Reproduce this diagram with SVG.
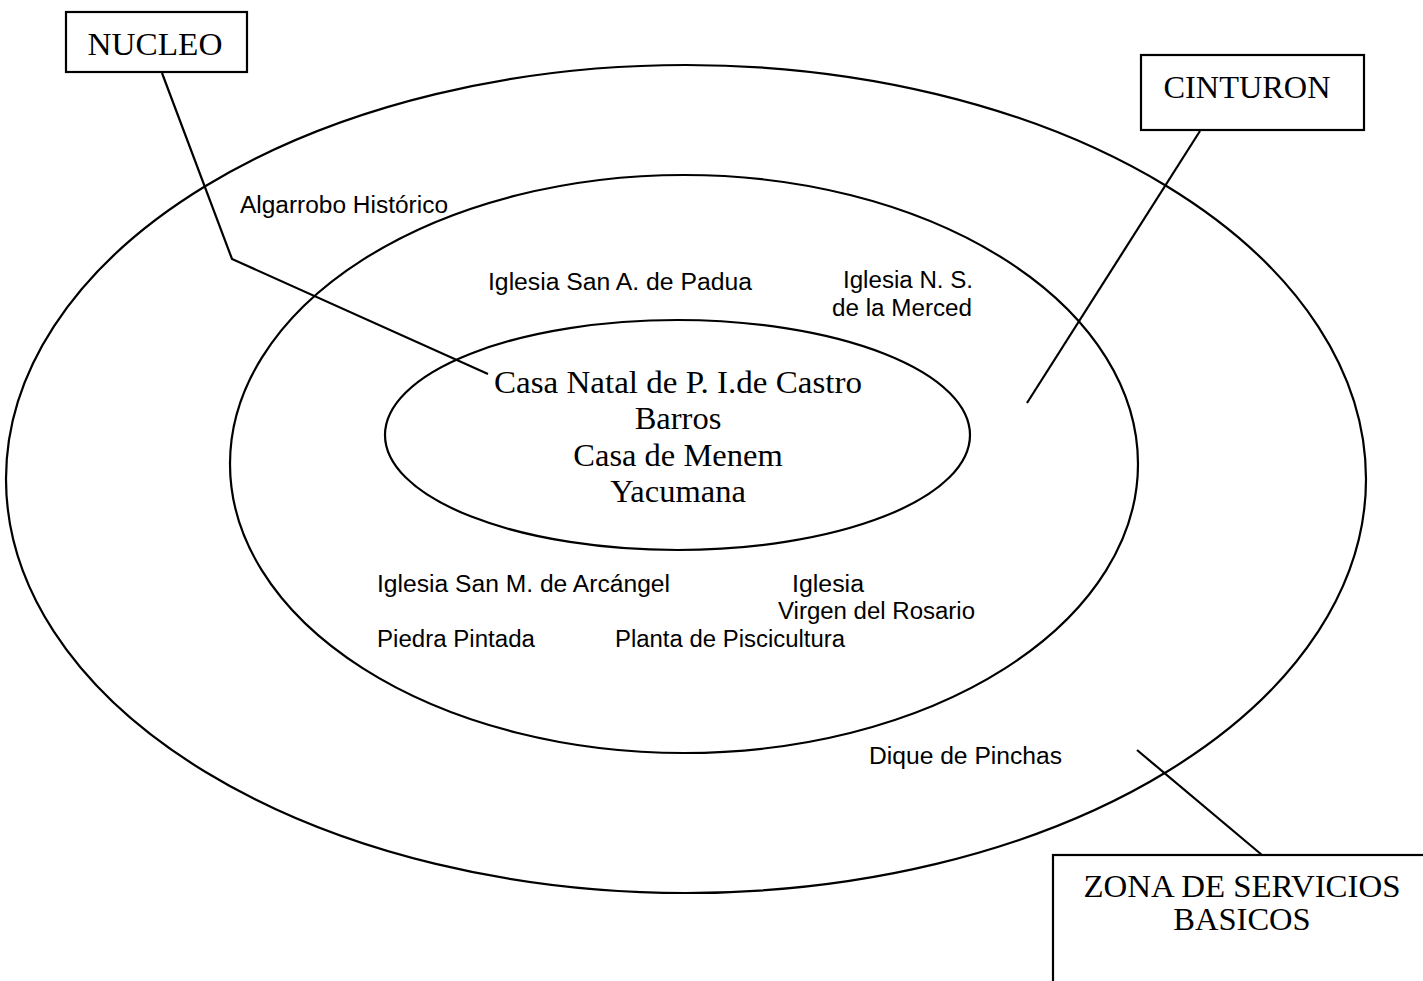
<svg xmlns="http://www.w3.org/2000/svg" width="1423" height="981" viewBox="0 0 1423 981">
<style>
.zone{fill:none;stroke:#000;stroke-width:2.2}
.box{fill:#fff;stroke:#000;stroke-width:2.2}
.conn{fill:none;stroke:#000;stroke-width:2.2;stroke-linejoin:miter}
.serif{font-family:"Liberation Serif","Times New Roman",serif;font-size:32.5px;fill:#000}
.sans{font-family:"Liberation Sans",Arial,sans-serif;font-size:23.5px;fill:#000}
.mid{text-anchor:middle}
</style>
<rect width="1423" height="981" fill="#fff"/>
<g id="zone-outer">
<ellipse class="zone" cx="686" cy="479" rx="680" ry="414"/>
<text class="sans" x="869" y="764" textLength="193" lengthAdjust="spacingAndGlyphs">Dique de Pinchas</text>
</g>
<g id="zone-middle">
<ellipse class="zone" cx="684" cy="464" rx="454" ry="289"/>
<text class="sans" x="240" y="213" textLength="208" lengthAdjust="spacingAndGlyphs">Algarrobo Histórico</text>
<text class="sans" x="488" y="290" textLength="264" lengthAdjust="spacingAndGlyphs">Iglesia San A. de Padua</text>
<text class="sans" x="843" y="288" textLength="130" lengthAdjust="spacingAndGlyphs">Iglesia N. S.</text>
<text class="sans" x="832" y="316" textLength="140" lengthAdjust="spacingAndGlyphs">de la Merced</text>
<text class="sans" x="377" y="592" textLength="293" lengthAdjust="spacingAndGlyphs">Iglesia San M. de Arcángel</text>
<text class="sans" x="792" y="592" textLength="72" lengthAdjust="spacingAndGlyphs">Iglesia</text>
<text class="sans" x="778" y="619" textLength="197" lengthAdjust="spacingAndGlyphs">Virgen del Rosario</text>
<text class="sans" x="377" y="647" textLength="158" lengthAdjust="spacingAndGlyphs">Piedra Pintada</text>
<text class="sans" x="615" y="647" textLength="230" lengthAdjust="spacingAndGlyphs">Planta de Piscicultura</text>
</g>
<g id="zone-inner">
<ellipse class="zone" cx="677.5" cy="435" rx="292.5" ry="115"/>
<text class="serif mid" x="678" y="393" textLength="368" lengthAdjust="spacingAndGlyphs">Casa Natal de P. I.de Castro</text>
<text class="serif mid" x="678" y="429">Barros</text>
<text class="serif mid" x="678" y="466">Casa de Menem</text>
<text class="serif mid" x="678" y="502">Yacumana</text>
</g>
<g id="connectors">
<polyline class="conn" points="162,73 232,259 488,374"/>
<line class="conn" x1="1200" y1="131" x2="1027" y2="403"/>
<line class="conn" x1="1137" y1="750" x2="1262" y2="855"/>
</g>
<g id="label-nucleo">
<rect class="box" x="66" y="12" width="181" height="60"/>
<text class="serif mid" x="155" y="55" textLength="135" lengthAdjust="spacingAndGlyphs">NUCLEO</text>
</g>
<g id="label-cinturon">
<rect class="box" x="1141" y="55" width="223" height="75"/>
<text class="serif mid" x="1247" y="98" textLength="167" lengthAdjust="spacingAndGlyphs">CINTURON</text>
</g>
<g id="label-zona">
<rect class="box" x="1053" y="855" width="400" height="200"/>
<text class="serif mid" x="1242" y="897" textLength="317" lengthAdjust="spacingAndGlyphs">ZONA DE SERVICIOS</text>
<text class="serif mid" x="1242" y="930">BASICOS</text>
</g>
</svg>
